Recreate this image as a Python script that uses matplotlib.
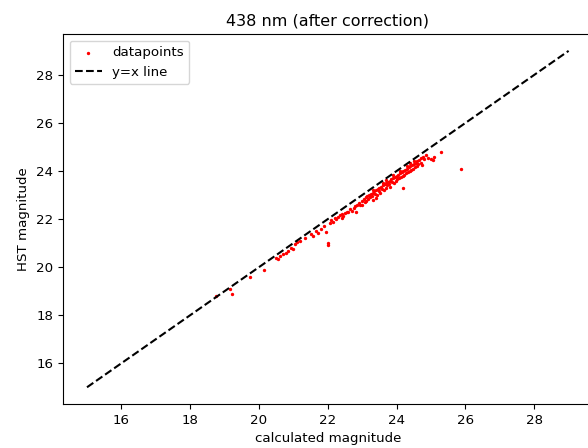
import matplotlib
matplotlib.use("Agg")
from matplotlib import pyplot as plt

# calculated vs HST magnitudes
calc_mag = [18.75, 19.15, 19.22, 19.75, 20.15, 20.50, 20.55, 20.62, 20.70, 20.78,
            20.85, 20.92, 20.98, 21.05, 21.10, 21.20, 21.35, 21.50, 21.58, 21.65,
            21.72, 21.80, 21.88, 21.96, 22.00, 22.01, 22.05, 22.10, 22.15, 22.20,
            22.25, 22.30, 22.35, 22.40, 22.42, 22.45, 22.50, 22.55, 22.60, 22.65,
            22.70, 22.75, 22.80, 22.82, 22.85, 22.90, 22.95, 23.00, 23.00, 23.05,
            23.08, 23.10, 23.12, 23.15, 23.18, 23.20, 23.22, 23.25, 23.28, 23.30,
            23.32, 23.35, 23.38, 23.40, 23.41, 23.42, 23.45, 23.48, 23.50, 23.52,
            23.55, 23.58, 23.60, 23.62, 23.65, 23.68, 23.70, 23.72, 23.75, 23.78,
            23.80, 23.82, 23.85, 23.88, 23.90, 23.92, 23.95, 23.98, 24.00, 24.02,
            24.05, 24.08, 24.10, 24.12, 24.15, 24.18, 24.20, 24.20, 24.22, 24.25,
            24.28, 24.30, 24.32, 24.35, 24.38, 24.40, 24.42, 24.45, 24.48, 24.50,
            24.52, 24.55, 24.58, 24.60, 24.62, 24.65, 24.70, 24.72, 24.75, 24.78,
            24.80, 24.85, 24.90, 25.00, 25.05, 25.10, 25.30, 25.88,
            23.60, 23.90, 24.10, 24.30, 24.50, 23.30, 23.70, 24.40]
hst_mag = [18.80, 19.08, 18.90, 19.60, 19.88, 20.40, 20.35, 20.48, 20.55, 20.60,
           20.68, 20.80, 20.75, 20.95, 21.05, 21.10, 21.22, 21.38, 21.30, 21.50,
           21.42, 21.60, 21.70, 21.46, 21.00, 20.93, 21.85, 21.95, 21.88, 22.05,
           22.00, 22.10, 22.15, 22.20, 22.04, 22.12, 22.25, 22.30, 22.28, 22.40,
           22.35, 22.45, 22.55, 22.30, 22.60, 22.65, 22.58, 22.75, 22.60, 22.82,
           22.70, 22.90, 22.75, 22.95, 22.85, 23.00, 22.90, 23.05, 22.95, 23.10,
           22.80, 23.15, 23.05, 23.20, 22.87, 23.00, 23.25, 23.15, 23.30, 23.10,
           23.35, 23.25, 23.40, 23.20, 23.45, 23.30, 23.50, 23.40, 23.55, 23.45,
           23.60, 23.35, 23.65, 23.55, 23.70, 23.50, 23.75, 23.60, 23.80, 23.65,
           23.85, 23.70, 23.90, 23.75, 23.95, 23.80, 24.00, 23.29, 23.85, 24.05,
           23.90, 24.10, 23.95, 24.15, 24.00, 24.20, 24.05, 24.25, 24.10, 24.30,
           24.15, 24.35, 24.20, 24.40, 24.30, 24.45, 24.35, 24.55, 24.25, 24.60,
           24.50, 24.65, 24.55, 24.50, 24.45, 24.60, 24.79, 24.08,
           23.52, 23.82, 24.02, 24.22, 24.42, 23.22, 23.62, 24.32]
line_x = [15, 29]

plt.rcParams["font.size"] = 9.6
fig = plt.figure(figsize=(5.88, 4.48), dpi=100)
ax = fig.add_axes([0.107, 0.098, 0.901, 0.826])
ax.scatter(calc_mag, hst_mag, s=2, c="red", label="datapoints")
ax.plot(line_x, line_x, "k--", label="y=x line")
ax.set_xlabel("calculated magnitude")
ax.set_ylabel("HST magnitude")
ax.set_title("438 nm (after correction)", fontsize=11.5)
ax.legend(loc="upper left")
fig.savefig("out.png", dpi=100)
